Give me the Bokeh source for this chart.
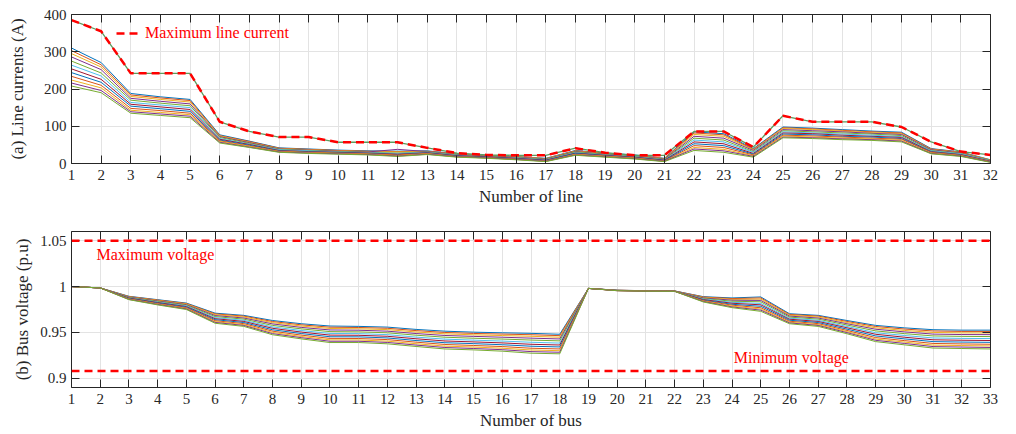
from bokeh.plotting import figure
from bokeh.layouts import column
from bokeh.models import Range1d, FixedTicker, LinearAxis, Span, Label, Legend, LegendItem
from bokeh.embed import file_html
from bokeh.resources import INLINE

# ---------------- data ----------------
line_numbers = list(range(1, 33))
bus_numbers = list(range(1, 34))
current_ticks = [0, 100, 200, 300, 400]
voltage_ticks = [0.9, 0.95, 1.0, 1.05]
voltage_tick_labels = ["0.9", "0.95", "1", "1.05"]

max_line_current = [385, 355, 242, 242, 242, 112, 86, 71, 71, 57, 57, 57, 42, 28, 23, 22,
                    22, 41, 29, 22, 22, 86, 86, 44, 128, 112, 112, 112, 98, 58, 32, 23]

line_currents = [
    [310, 271, 188, 179, 172, 77, 60, 42, 39, 36, 34, 33, 34, 26, 22, 19, 14, 35, 28, 23, 14, 85, 80, 40, 98, 95, 91, 87, 84, 40, 31, 10],
    [303, 265, 184, 176, 169, 75, 59, 41, 38, 35, 33, 32, 33, 25, 21, 18, 13, 34, 27, 22, 13, 82, 77, 38, 96, 93, 89, 85, 82, 39, 30, 9],
    [295, 259, 180, 172, 165, 74, 57, 40, 37, 34, 32, 31, 32, 25, 21, 18, 13, 33, 26, 21, 13, 78, 73, 37, 94, 91, 87, 83, 80, 38, 29, 9],
    [286, 252, 175, 167, 160, 72, 56, 39, 36, 33, 31, 38, 32, 24, 20, 17, 12, 32, 25, 20, 12, 73, 68, 35, 91, 88, 85, 81, 78, 37, 28, 8],
    [275, 243, 170, 162, 155, 70, 54, 38, 35, 32, 30, 28, 31, 23, 19, 16, 11, 31, 24, 19, 11, 68, 63, 32, 88, 85, 82, 79, 75, 35, 27, 8],
    [264, 235, 164, 157, 150, 67, 52, 37, 34, 31, 29, 27, 30, 22, 18, 15, 10, 29, 23, 18, 10, 63, 58, 30, 85, 82, 79, 76, 72, 34, 26, 7],
    [254, 226, 159, 152, 145, 65, 51, 35, 32, 30, 28, 25, 29, 21, 18, 14, 9, 28, 22, 17, 9, 58, 53, 27, 82, 80, 76, 73, 70, 32, 24, 6],
    [244, 218, 154, 147, 140, 63, 49, 34, 31, 29, 27, 24, 28, 20, 17, 13, 8, 27, 21, 16, 8, 53, 48, 25, 79, 77, 73, 71, 67, 31, 23, 5],
    [234, 210, 148, 142, 135, 61, 47, 33, 30, 28, 26, 23, 27, 19, 16, 12, 7, 25, 20, 15, 7, 48, 43, 23, 76, 74, 71, 68, 65, 30, 22, 5],
    [224, 203, 143, 137, 131, 59, 46, 32, 29, 27, 25, 21, 26, 18, 15, 11, 6, 24, 19, 14, 6, 43, 38, 21, 74, 71, 68, 66, 62, 28, 21, 4],
    [216, 196, 139, 133, 127, 57, 44, 31, 28, 26, 24, 20, 25, 18, 15, 11, 6, 23, 18, 13, 6, 39, 34, 19, 71, 69, 66, 64, 60, 27, 20, 4],
    [208, 190, 135, 129, 123, 55, 43, 30, 27, 25, 23, 19, 24, 17, 14, 10, 5, 22, 17, 12, 5, 35, 30, 17, 69, 67, 64, 62, 58, 26, 19, 3],
]

bus_voltages = [
    [1.0, 0.9985, 0.9894, 0.9857, 0.9820, 0.9710, 0.9686, 0.9630, 0.9595, 0.9570, 0.9566, 0.9558, 0.9533, 0.9514, 0.9503, 0.9496, 0.9490, 0.9480, 0.9980, 0.9960, 0.9955, 0.9952, 0.9890, 0.9876, 0.9887, 0.9704, 0.9686, 0.9630, 0.9577, 0.9550, 0.9530, 0.9525, 0.9525],
    [1.0, 0.9985, 0.9891, 0.9853, 0.9815, 0.9702, 0.9678, 0.9619, 0.9583, 0.9557, 0.9554, 0.9545, 0.9520, 0.9500, 0.9489, 0.9482, 0.9475, 0.9465, 0.9980, 0.9960, 0.9955, 0.9952, 0.9886, 0.9869, 0.9876, 0.9696, 0.9678, 0.9620, 0.9565, 0.9537, 0.9516, 0.9511, 0.9511],
    [1.0, 0.9985, 0.9888, 0.9848, 0.9810, 0.9694, 0.9668, 0.9607, 0.9570, 0.9543, 0.9540, 0.9531, 0.9505, 0.9485, 0.9474, 0.9466, 0.9458, 0.9448, 0.9980, 0.9959, 0.9954, 0.9951, 0.9881, 0.9860, 0.9863, 0.9688, 0.9668, 0.9608, 0.9550, 0.9522, 0.9500, 0.9495, 0.9494],
    [1.0, 0.9985, 0.9885, 0.9843, 0.9803, 0.9684, 0.9657, 0.9593, 0.9555, 0.9527, 0.9524, 0.9514, 0.9488, 0.9467, 0.9457, 0.9448, 0.9438, 0.9429, 0.9980, 0.9959, 0.9954, 0.9951, 0.9876, 0.9851, 0.9849, 0.9678, 0.9657, 0.9595, 0.9535, 0.9506, 0.9482, 0.9477, 0.9476],
    [1.0, 0.9985, 0.9881, 0.9838, 0.9796, 0.9673, 0.9645, 0.9577, 0.9539, 0.9509, 0.9506, 0.9496, 0.9470, 0.9448, 0.9437, 0.9428, 0.9417, 0.9408, 0.9980, 0.9958, 0.9953, 0.9950, 0.9870, 0.9840, 0.9834, 0.9667, 0.9645, 0.9581, 0.9517, 0.9487, 0.9462, 0.9457, 0.9455],
    [1.0, 0.9985, 0.9877, 0.9831, 0.9789, 0.9661, 0.9632, 0.9560, 0.9521, 0.9489, 0.9487, 0.9476, 0.9449, 0.9427, 0.9416, 0.9406, 0.9393, 0.9384, 0.9980, 0.9958, 0.9953, 0.9950, 0.9864, 0.9828, 0.9816, 0.9655, 0.9632, 0.9565, 0.9497, 0.9467, 0.9440, 0.9435, 0.9433],
    [1.0, 0.9985, 0.9874, 0.9826, 0.9782, 0.9650, 0.9620, 0.9545, 0.9504, 0.9471, 0.9469, 0.9458, 0.9431, 0.9407, 0.9397, 0.9386, 0.9371, 0.9363, 0.9980, 0.9957, 0.9952, 0.9950, 0.9858, 0.9818, 0.9801, 0.9644, 0.9620, 0.9551, 0.9480, 0.9448, 0.9420, 0.9415, 0.9412],
    [1.0, 0.9985, 0.9870, 0.9820, 0.9775, 0.9639, 0.9608, 0.9529, 0.9488, 0.9453, 0.9452, 0.9440, 0.9412, 0.9388, 0.9378, 0.9366, 0.9350, 0.9342, 0.9980, 0.9957, 0.9952, 0.9949, 0.9852, 0.9807, 0.9785, 0.9633, 0.9608, 0.9536, 0.9462, 0.9430, 0.9400, 0.9395, 0.9392],
    [1.0, 0.9985, 0.9866, 0.9814, 0.9768, 0.9628, 0.9596, 0.9514, 0.9471, 0.9435, 0.9434, 0.9422, 0.9394, 0.9369, 0.9358, 0.9346, 0.9328, 0.9320, 0.9980, 0.9956, 0.9951, 0.9949, 0.9847, 0.9797, 0.9769, 0.9622, 0.9596, 0.9522, 0.9444, 0.9411, 0.9380, 0.9375, 0.9371],
    [1.0, 0.9985, 0.9863, 0.9809, 0.9761, 0.9618, 0.9585, 0.9500, 0.9456, 0.9419, 0.9418, 0.9405, 0.9377, 0.9351, 0.9341, 0.9328, 0.9309, 0.9301, 0.9980, 0.9956, 0.9951, 0.9949, 0.9841, 0.9787, 0.9755, 0.9612, 0.9585, 0.9509, 0.9428, 0.9395, 0.9362, 0.9357, 0.9353],
    [1.0, 0.9985, 0.9860, 0.9805, 0.9756, 0.9609, 0.9576, 0.9487, 0.9443, 0.9404, 0.9404, 0.9391, 0.9362, 0.9336, 0.9325, 0.9312, 0.9291, 0.9284, 0.9980, 0.9955, 0.9950, 0.9948, 0.9837, 0.9778, 0.9743, 0.9604, 0.9576, 0.9498, 0.9414, 0.9380, 0.9346, 0.9341, 0.9336],
    [1.0, 0.9985, 0.9857, 0.9800, 0.9750, 0.9600, 0.9566, 0.9475, 0.9430, 0.9390, 0.9390, 0.9376, 0.9347, 0.9320, 0.9310, 0.9296, 0.9274, 0.9267, 0.9980, 0.9955, 0.9950, 0.9948, 0.9832, 0.9770, 0.9730, 0.9595, 0.9566, 0.9486, 0.9400, 0.9365, 0.9330, 0.9325, 0.9320],
]

max_voltage_limit = 1.05
min_voltage_limit = 0.908

# ---------------- style ----------------
FONT = "Liberation Serif"
TXT = "#262626"
GRID = "#e3e3e3"
RED = "#FF0000"
palette = ["#0072BD", "#D95319", "#EDB120", "#7E2F8E", "#77AC30", "#4DBEEE", "#A2142F"]


def box_axis(ticks):
    # frame-closing axis (MATLAB "box on"): ticks only, labels not painted
    return LinearAxis(ticker=FixedTicker(ticks=ticks), major_label_text_font_size="1px",
                      major_label_text_color=None, major_label_standoff=0,
                      axis_line_color=TXT, major_tick_line_color=TXT,
                      major_tick_in=8, major_tick_out=0, minor_tick_line_color=None)


def make_fig(xr, yr, xticks, yticks, xlabel, ylabel, top_border, frame_h, bottom_border, ylab_standoff):
    p = figure(width=1016, height=top_border + frame_h + bottom_border,
               x_range=Range1d(*xr), y_range=Range1d(*yr),
               output_backend="svg", toolbar_location=None,
               min_border_left=71, min_border_right=26,
               min_border_top=top_border, min_border_bottom=bottom_border)
    p.outline_line_color = None
    p.background_fill_color = "white"
    p.border_fill_color = "white"
    p.xaxis.ticker = FixedTicker(ticks=xticks)
    p.yaxis.ticker = FixedTicker(ticks=yticks)
    p.xaxis.axis_label = xlabel
    p.yaxis.axis_label = ylabel
    for ax in (p.xaxis[0], p.yaxis[0]):
        ax.axis_line_color = TXT
        ax.major_tick_line_color = TXT
        ax.major_tick_in = 8
        ax.major_tick_out = 0
        ax.minor_tick_line_color = None
        ax.major_label_text_font = FONT
        ax.major_label_text_font_size = "15px"
        ax.major_label_text_color = TXT
        ax.axis_label_text_font = FONT
        ax.axis_label_text_font_size = "17px"
        ax.axis_label_text_font_style = "normal"
        ax.axis_label_text_color = TXT
    p.xaxis.major_label_standoff = 6
    p.xaxis.axis_label_standoff = 4
    p.yaxis.major_label_standoff = 5
    p.yaxis.axis_label_standoff = ylab_standoff
    p.add_layout(box_axis(xticks), "above")
    p.add_layout(box_axis(yticks), "right")
    p.xgrid.grid_line_color = GRID
    p.ygrid.grid_line_color = GRID
    p.xgrid.ticker = FixedTicker(ticks=xticks)
    p.ygrid.ticker = FixedTicker(ticks=yticks)
    return p


# ---------------- (a) line currents ----------------
p1 = make_fig((1, 32), (0, 400), line_numbers, current_ticks,
              "Number of line", "(a) Line currents (A)", 14, 149, 54, 14)
for i, series in enumerate(line_currents):
    p1.line(line_numbers, series, line_color=palette[i % len(palette)], line_width=1)
p1.line(line_numbers, max_line_current, line_color="#5E9B5E", line_width=1.3)
r_max = p1.line(line_numbers, max_line_current, line_color=RED, line_width=2.5, line_dash="8 5")

legend = Legend(items=[LegendItem(label="Maximum line current", renderers=[r_max])],
                location=(45, 121), padding=0, margin=0, spacing=0,
                glyph_width=22, glyph_height=14, label_height=14, label_standoff=7,
                border_line_color=None, background_fill_alpha=0,
                label_text_font=FONT, label_text_font_size="16px", label_text_color=RED)
p1.add_layout(legend)

# ---------------- (b) bus voltages ----------------
p2 = make_fig((1, 33), (0.89, 1.06), bus_numbers, voltage_ticks,
              "Number of bus", "(b) Bus voltage (p.u)", 14, 156, 47, 5)
p2.yaxis[0].major_label_overrides = {t: s for t, s in zip(voltage_ticks, voltage_tick_labels)}
for i, series in enumerate(bus_voltages):
    p2.line(bus_numbers, series, line_color=palette[i % len(palette)], line_width=1)

p2.add_layout(Span(location=max_voltage_limit, dimension="width", line_color=RED,
                   line_width=2.5, line_dash="8 5"))
p2.add_layout(Span(location=min_voltage_limit, dimension="width", line_color=RED,
                   line_width=2.5, line_dash="8 5"))
p2.add_layout(Label(x=1.87, y=1.0353, text="Maximum voltage", text_font=FONT,
                    text_font_size="16px", text_color=RED, text_baseline="middle"))
p2.add_layout(Label(x=24.06, y=0.9227, text="Minimum voltage", text_font=FONT,
                    text_font_size="16px", text_color=RED, text_baseline="middle"))

layout = column(p1, p2, spacing=0)
open("out.html", "w").write(file_html(layout, INLINE))
